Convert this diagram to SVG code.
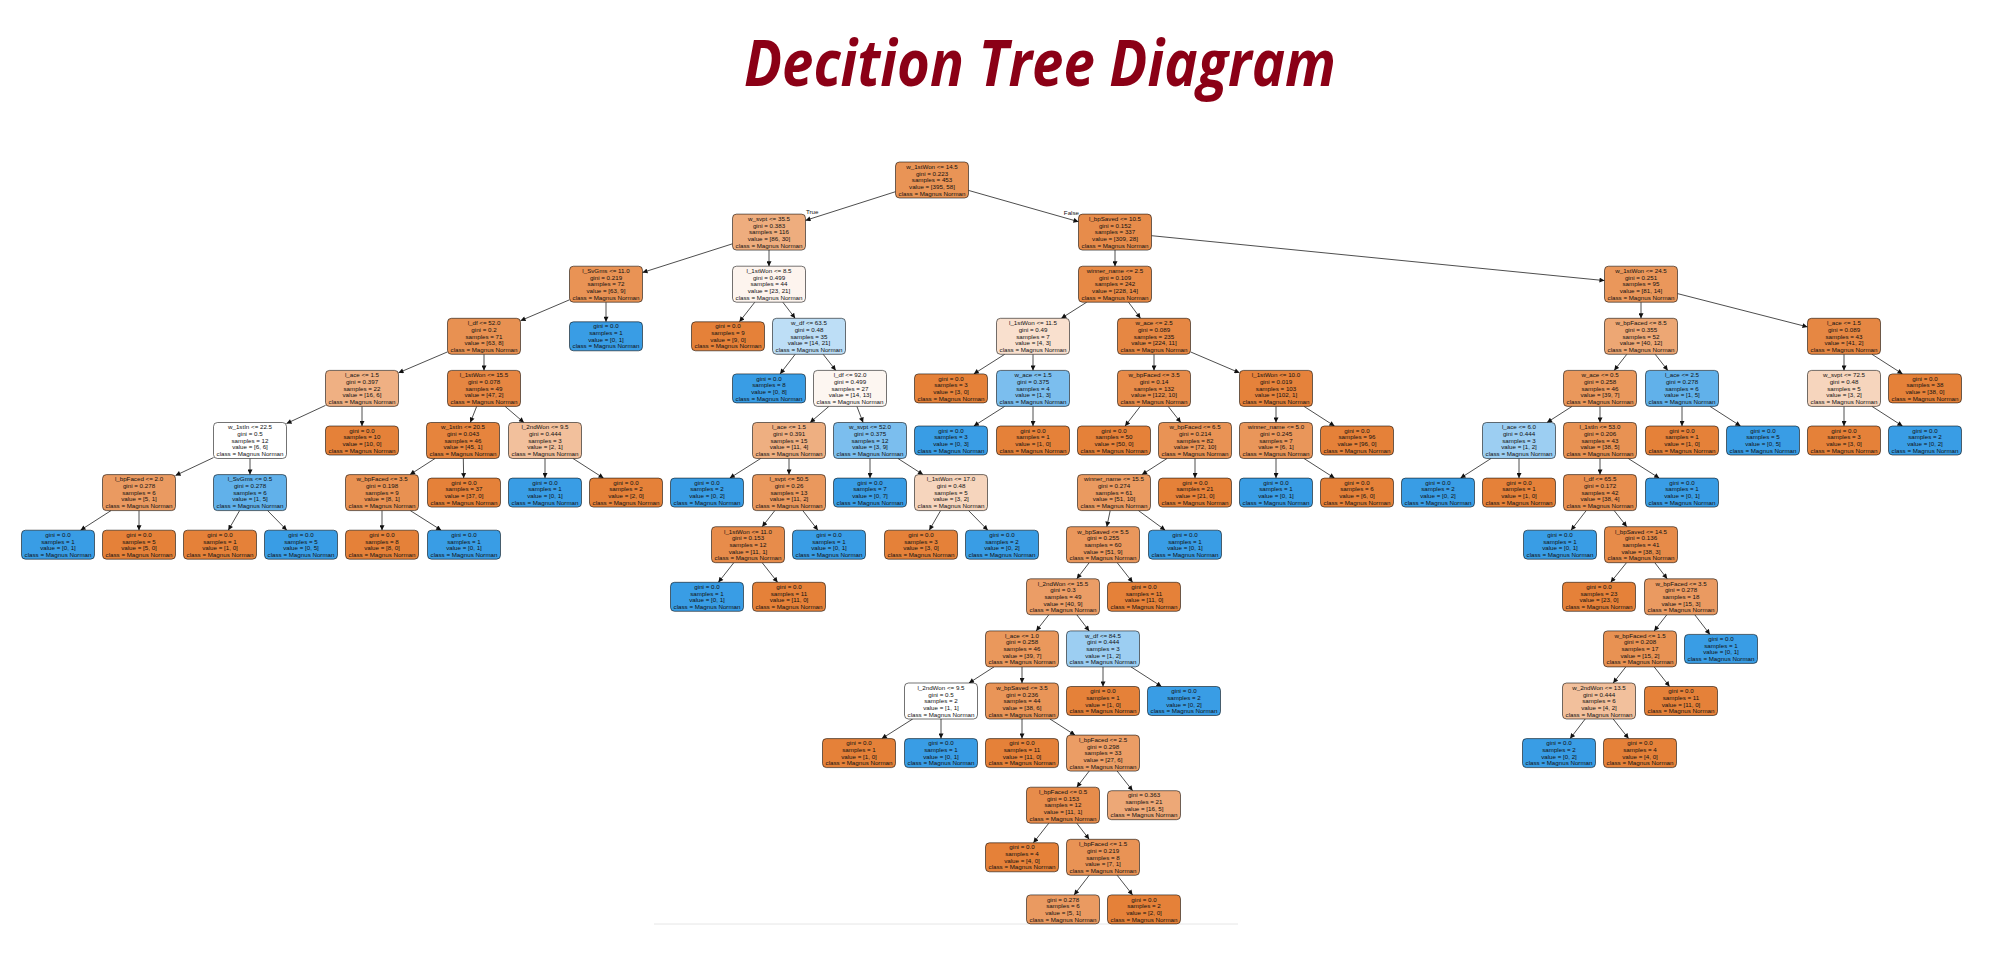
<svg xmlns="http://www.w3.org/2000/svg" width="2002" height="972" viewBox="0 0 2002 972">
<style>
.nd rect{stroke:#000;stroke-opacity:.55;stroke-width:1}
.nd text{font-family:"Liberation Sans",Arial,sans-serif;font-size:6.2px;fill:#111;text-anchor:middle}
.o{fill:#e58139}.b{fill:#399de5}
.e line{stroke:#3a3a3a;stroke-width:.9;marker-end:url(#ah)}
.lbl{font-family:"Liberation Sans",Arial,sans-serif;font-size:6.2px;fill:#111}
</style>
<defs>
<marker id="ah" viewBox="0 0 10 10" refX="10" refY="5" markerWidth="6" markerHeight="5" markerUnits="userSpaceOnUse" orient="auto"><path d="M0,0L10,5L0,10z" fill="#111"/></marker>
</defs>
<rect width="2002" height="972" fill="#fff"/>
<text x="1040" y="86" text-anchor="middle" font-family="'Open Sans',sans-serif" font-weight="700" font-style="italic" font-size="64" fill="#8b0016" textLength="592" lengthAdjust="spacingAndGlyphs">Decition Tree Diagram</text>
<line x1="654" y1="924" x2="1238" y2="924" stroke="#e6e6e6" stroke-width="1"/>

<g id="edges" class="e">
<line x1="895.5" y1="191.7" x2="805.5" y2="220.4"/>
<line x1="968.5" y1="190.4" x2="1078.5" y2="221.7"/>
<line x1="732.5" y1="243.8" x2="642.5" y2="272.5"/>
<line x1="769" y1="250.1" x2="769" y2="266.2"/>
<line x1="1115" y1="250.1" x2="1115" y2="266.2"/>
<line x1="1151.5" y1="235.7" x2="1604.5" y2="280.6"/>
<line x1="569.5" y1="299.8" x2="520.5" y2="320.7"/>
<line x1="606" y1="302.2" x2="606" y2="321.8"/>
<line x1="754.8" y1="302.2" x2="739.4" y2="321.8"/>
<line x1="782.8" y1="302.2" x2="795.2" y2="318.3"/>
<line x1="1086.7" y1="302.2" x2="1061.3" y2="318.3"/>
<line x1="1128.5" y1="302.2" x2="1140.5" y2="318.3"/>
<line x1="1641" y1="302.2" x2="1641" y2="318.3"/>
<line x1="1677.5" y1="293.6" x2="1807.5" y2="326.9"/>
<line x1="447.5" y1="351.9" x2="398.5" y2="372.8"/>
<line x1="484" y1="354.3" x2="484" y2="370.4"/>
<line x1="795.2" y1="354.3" x2="780.1" y2="373.9"/>
<line x1="823.2" y1="354.3" x2="835.8" y2="370.4"/>
<line x1="1004.7" y1="354.3" x2="973.8" y2="373.9"/>
<line x1="1033" y1="354.3" x2="1033" y2="370.4"/>
<line x1="1154" y1="354.3" x2="1154" y2="370.4"/>
<line x1="1190.5" y1="351.9" x2="1239.5" y2="372.8"/>
<line x1="1626.8" y1="354.3" x2="1614.2" y2="370.4"/>
<line x1="1655.2" y1="354.3" x2="1667.8" y2="370.4"/>
<line x1="1844" y1="354.3" x2="1844" y2="370.4"/>
<line x1="1872" y1="354.3" x2="1902.5" y2="373.9"/>
<line x1="325.5" y1="405.4" x2="286.5" y2="423.5"/>
<line x1="362" y1="406.4" x2="362" y2="426"/>
<line x1="476.7" y1="406.4" x2="470.3" y2="422.5"/>
<line x1="505.1" y1="406.4" x2="523.9" y2="422.5"/>
<line x1="828.9" y1="406.4" x2="810.1" y2="422.5"/>
<line x1="856.9" y1="406.4" x2="863.1" y2="422.5"/>
<line x1="1004.7" y1="406.4" x2="973.8" y2="426"/>
<line x1="1033" y1="406.4" x2="1033" y2="426"/>
<line x1="1140.2" y1="406.4" x2="1125.1" y2="426"/>
<line x1="1168.2" y1="406.4" x2="1180.8" y2="422.5"/>
<line x1="1276" y1="406.4" x2="1276" y2="422.5"/>
<line x1="1304" y1="406.4" x2="1334.5" y2="426"/>
<line x1="1572" y1="406.4" x2="1547" y2="422.5"/>
<line x1="1600" y1="406.4" x2="1600" y2="422.5"/>
<line x1="1682" y1="406.4" x2="1682" y2="426"/>
<line x1="1710" y1="406.4" x2="1740.5" y2="426"/>
<line x1="1844" y1="406.4" x2="1844" y2="426"/>
<line x1="1872" y1="406.4" x2="1902.5" y2="426"/>
<line x1="213.5" y1="457.6" x2="175.5" y2="475.5"/>
<line x1="250" y1="458.5" x2="250" y2="474.6"/>
<line x1="435" y1="458.5" x2="410" y2="474.6"/>
<line x1="463.3" y1="458.5" x2="463.7" y2="478.1"/>
<line x1="545" y1="458.5" x2="545" y2="478.1"/>
<line x1="573" y1="458.5" x2="603.5" y2="478.1"/>
<line x1="760.7" y1="458.5" x2="729.8" y2="478.1"/>
<line x1="789" y1="458.5" x2="789" y2="474.6"/>
<line x1="870" y1="458.5" x2="870" y2="478.1"/>
<line x1="898" y1="458.5" x2="923" y2="474.6"/>
<line x1="1167" y1="458.5" x2="1142" y2="474.6"/>
<line x1="1195" y1="458.5" x2="1195" y2="478.1"/>
<line x1="1276" y1="458.5" x2="1276" y2="478.1"/>
<line x1="1304" y1="458.5" x2="1334.5" y2="478.1"/>
<line x1="1491" y1="458.5" x2="1460.5" y2="478.1"/>
<line x1="1519" y1="458.5" x2="1519" y2="478.1"/>
<line x1="1600" y1="458.5" x2="1600" y2="474.6"/>
<line x1="1628.3" y1="458.5" x2="1659.2" y2="478.1"/>
<line x1="111" y1="510.6" x2="80.5" y2="530.2"/>
<line x1="139" y1="510.6" x2="139" y2="530.2"/>
<line x1="239.6" y1="510.6" x2="228.3" y2="530.2"/>
<line x1="267.6" y1="510.6" x2="286.8" y2="530.2"/>
<line x1="382" y1="510.6" x2="382" y2="530.2"/>
<line x1="410.3" y1="510.6" x2="441.2" y2="530.2"/>
<line x1="774.8" y1="510.6" x2="762.2" y2="526.7"/>
<line x1="802.8" y1="510.6" x2="817.9" y2="530.2"/>
<line x1="940.6" y1="510.6" x2="929.3" y2="530.2"/>
<line x1="968.6" y1="510.6" x2="987.8" y2="530.2"/>
<line x1="1110.2" y1="510.6" x2="1106.8" y2="526.7"/>
<line x1="1138.5" y1="510.6" x2="1165.2" y2="530.2"/>
<line x1="1586.2" y1="510.6" x2="1571.1" y2="530.2"/>
<line x1="1614.2" y1="510.6" x2="1626.8" y2="526.7"/>
<line x1="733.8" y1="562.7" x2="718.4" y2="582.3"/>
<line x1="762.2" y1="562.7" x2="777.6" y2="582.3"/>
<line x1="1089.2" y1="562.7" x2="1076.8" y2="578.8"/>
<line x1="1117.2" y1="562.7" x2="1132.6" y2="582.3"/>
<line x1="1626.5" y1="562.7" x2="1610.7" y2="582.3"/>
<line x1="1654.8" y1="562.7" x2="1667.2" y2="578.8"/>
<line x1="1048.8" y1="614.8" x2="1036.2" y2="630.9"/>
<line x1="1076.8" y1="614.8" x2="1089.2" y2="630.9"/>
<line x1="1666.8" y1="614.8" x2="1654.2" y2="630.9"/>
<line x1="1694.8" y1="614.8" x2="1709.9" y2="634.4"/>
<line x1="994" y1="666.9" x2="969" y2="683"/>
<line x1="1022" y1="666.9" x2="1022" y2="683"/>
<line x1="1103" y1="666.9" x2="1103" y2="686.5"/>
<line x1="1131" y1="666.9" x2="1161.5" y2="686.5"/>
<line x1="1625.8" y1="666.9" x2="1613.2" y2="683"/>
<line x1="1654.2" y1="666.9" x2="1669.6" y2="686.5"/>
<line x1="912.7" y1="719" x2="881.8" y2="738.6"/>
<line x1="941" y1="719" x2="941" y2="738.6"/>
<line x1="1022" y1="719" x2="1022" y2="738.6"/>
<line x1="1050" y1="719" x2="1075" y2="735.1"/>
<line x1="1585.2" y1="719" x2="1570.1" y2="738.6"/>
<line x1="1613.2" y1="719" x2="1628.6" y2="738.6"/>
<line x1="1089.2" y1="771.1" x2="1076.8" y2="787.2"/>
<line x1="1117.2" y1="771.1" x2="1132.6" y2="790.7"/>
<line x1="1048.8" y1="823.2" x2="1033.4" y2="842.8"/>
<line x1="1076.8" y1="823.2" x2="1089.2" y2="839.3"/>
<line x1="1089.2" y1="875.3" x2="1074.1" y2="894.9"/>
<line x1="1117.2" y1="875.3" x2="1132.6" y2="894.9"/>
</g>
<text class="lbl" x="806" y="214">True</text>
<text class="lbl" x="1079" y="215" text-anchor="end">False</text>

<g id="nodes">
<g id="n0" class="nd" transform="translate(932,180)"><rect x="-36.5" y="-18" width="73" height="36" rx="4" fill="#e99456"/><text y="-11.2"><tspan x="0">w_1stWon &lt;= 14.5</tspan><tspan x="0" dy="6.7">gini = 0.223</tspan><tspan x="0" dy="6.7">samples = 453</tspan><tspan x="0" dy="6.7">value = [395, 58]</tspan><tspan x="0" dy="6.7">class = Magnus Norman</tspan></text></g>
<g id="n1" class="nd" transform="translate(769,232.1)"><rect x="-36.5" y="-18" width="73" height="36" rx="4" fill="#eead7e"/><text y="-11.2"><tspan x="0">w_svpt &lt;= 35.5</tspan><tspan x="0" dy="6.7">gini = 0.383</tspan><tspan x="0" dy="6.7">samples = 116</tspan><tspan x="0" dy="6.7">value = [86, 30]</tspan><tspan x="0" dy="6.7">class = Magnus Norman</tspan></text></g>
<g id="n20" class="nd" transform="translate(1115,232.1)"><rect x="-36.5" y="-18" width="73" height="36" rx="4" fill="#e78c4b"/><text y="-11.2"><tspan x="0">l_bpSaved &lt;= 10.5</tspan><tspan x="0" dy="6.7">gini = 0.152</tspan><tspan x="0" dy="6.7">samples = 337</tspan><tspan x="0" dy="6.7">value = [309, 28]</tspan><tspan x="0" dy="6.7">class = Magnus Norman</tspan></text></g>
<g id="n2" class="nd" transform="translate(606,284.2)"><rect x="-36.5" y="-18" width="73" height="36" rx="4" fill="#e99355"/><text y="-11.2"><tspan x="0">l_SvGms &lt;= 11.0</tspan><tspan x="0" dy="6.7">gini = 0.219</tspan><tspan x="0" dy="6.7">samples = 72</tspan><tspan x="0" dy="6.7">value = [63, 9]</tspan><tspan x="0" dy="6.7">class = Magnus Norman</tspan></text></g>
<g id="n12" class="nd" transform="translate(769,284.2)"><rect x="-36.5" y="-18" width="73" height="36" rx="4" fill="#fdf4ee"/><text y="-11.2"><tspan x="0">l_1stWon &lt;= 8.5</tspan><tspan x="0" dy="6.7">gini = 0.499</tspan><tspan x="0" dy="6.7">samples = 44</tspan><tspan x="0" dy="6.7">value = [23, 21]</tspan><tspan x="0" dy="6.7">class = Magnus Norman</tspan></text></g>
<g id="n21" class="nd" transform="translate(1115,284.2)"><rect x="-36.5" y="-18" width="73" height="36" rx="4" fill="#e78945"/><text y="-11.2"><tspan x="0">winner_name &lt;= 2.5</tspan><tspan x="0" dy="6.7">gini = 0.109</tspan><tspan x="0" dy="6.7">samples = 242</tspan><tspan x="0" dy="6.7">value = [228, 14]</tspan><tspan x="0" dy="6.7">class = Magnus Norman</tspan></text></g>
<g id="n39" class="nd" transform="translate(1641,284.2)"><rect x="-36.5" y="-18" width="73" height="36" rx="4" fill="#ea975b"/><text y="-11.2"><tspan x="0">w_1stWon &lt;= 24.5</tspan><tspan x="0" dy="6.7">gini = 0.251</tspan><tspan x="0" dy="6.7">samples = 95</tspan><tspan x="0" dy="6.7">value = [81, 14]</tspan><tspan x="0" dy="6.7">class = Magnus Norman</tspan></text></g>
<g id="n3" class="nd" transform="translate(484,336.3)"><rect x="-36.5" y="-18" width="73" height="36" rx="4" fill="#e89152"/><text y="-11.2"><tspan x="0">l_df &lt;= 52.0</tspan><tspan x="0" dy="6.7">gini = 0.2</tspan><tspan x="0" dy="6.7">samples = 71</tspan><tspan x="0" dy="6.7">value = [63, 8]</tspan><tspan x="0" dy="6.7">class = Magnus Norman</tspan></text></g>
<g id="n13" class="nd" transform="translate(809,336.3)"><rect x="-36.5" y="-18" width="73" height="36" rx="4" fill="#bddef6"/><text y="-11.2"><tspan x="0">w_df &lt;= 63.5</tspan><tspan x="0" dy="6.7">gini = 0.48</tspan><tspan x="0" dy="6.7">samples = 35</tspan><tspan x="0" dy="6.7">value = [14, 21]</tspan><tspan x="0" dy="6.7">class = Magnus Norman</tspan></text></g>
<g id="n22" class="nd" transform="translate(1033,336.3)"><rect x="-36.5" y="-18" width="73" height="36" rx="4" fill="#f9e0ce"/><text y="-11.2"><tspan x="0">l_1stWon &lt;= 11.5</tspan><tspan x="0" dy="6.7">gini = 0.49</tspan><tspan x="0" dy="6.7">samples = 7</tspan><tspan x="0" dy="6.7">value = [4, 3]</tspan><tspan x="0" dy="6.7">class = Magnus Norman</tspan></text></g>
<g id="n24" class="nd" transform="translate(1154,336.3)"><rect x="-36.5" y="-18" width="73" height="36" rx="4" fill="#e68743"/><text y="-11.2"><tspan x="0">w_ace &lt;= 2.5</tspan><tspan x="0" dy="6.7">gini = 0.089</tspan><tspan x="0" dy="6.7">samples = 235</tspan><tspan x="0" dy="6.7">value = [224, 11]</tspan><tspan x="0" dy="6.7">class = Magnus Norman</tspan></text></g>
<g id="n40" class="nd" transform="translate(1641,336.3)"><rect x="-36.5" y="-18" width="73" height="36" rx="4" fill="#eda774"/><text y="-11.2"><tspan x="0">w_bpFaced &lt;= 8.5</tspan><tspan x="0" dy="6.7">gini = 0.355</tspan><tspan x="0" dy="6.7">samples = 52</tspan><tspan x="0" dy="6.7">value = [40, 12]</tspan><tspan x="0" dy="6.7">class = Magnus Norman</tspan></text></g>
<g id="n50" class="nd" transform="translate(1844,336.3)"><rect x="-36.5" y="-18" width="73" height="36" rx="4" fill="#e68743"/><text y="-11.2"><tspan x="0">l_ace &lt;= 1.5</tspan><tspan x="0" dy="6.7">gini = 0.089</tspan><tspan x="0" dy="6.7">samples = 43</tspan><tspan x="0" dy="6.7">value = [41, 2]</tspan><tspan x="0" dy="6.7">class = Magnus Norman</tspan></text></g>
<g id="n4" class="nd" transform="translate(362,388.4)"><rect x="-36.5" y="-18" width="73" height="36" rx="4" fill="#efb083"/><text y="-11.2"><tspan x="0">l_ace &lt;= 1.5</tspan><tspan x="0" dy="6.7">gini = 0.397</tspan><tspan x="0" dy="6.7">samples = 22</tspan><tspan x="0" dy="6.7">value = [16, 6]</tspan><tspan x="0" dy="6.7">class = Magnus Norman</tspan></text></g>
<g id="n8" class="nd" transform="translate(484,388.4)"><rect x="-36.5" y="-18" width="73" height="36" rx="4" fill="#e68642"/><text y="-11.2"><tspan x="0">l_1stWon &lt;= 15.5</tspan><tspan x="0" dy="6.7">gini = 0.078</tspan><tspan x="0" dy="6.7">samples = 49</tspan><tspan x="0" dy="6.7">value = [47, 2]</tspan><tspan x="0" dy="6.7">class = Magnus Norman</tspan></text></g>
<g id="n14" class="nd" transform="translate(850,388.4)"><rect x="-36.5" y="-18" width="73" height="36" rx="4" fill="#fdf6f1"/><text y="-11.2"><tspan x="0">l_df &lt;= 92.0</tspan><tspan x="0" dy="6.7">gini = 0.499</tspan><tspan x="0" dy="6.7">samples = 27</tspan><tspan x="0" dy="6.7">value = [14, 13]</tspan><tspan x="0" dy="6.7">class = Magnus Norman</tspan></text></g>
<g id="n23" class="nd" transform="translate(1033,388.4)"><rect x="-36.5" y="-18" width="73" height="36" rx="4" fill="#7bbeee"/><text y="-11.2"><tspan x="0">w_ace &lt;= 1.5</tspan><tspan x="0" dy="6.7">gini = 0.375</tspan><tspan x="0" dy="6.7">samples = 4</tspan><tspan x="0" dy="6.7">value = [1, 3]</tspan><tspan x="0" dy="6.7">class = Magnus Norman</tspan></text></g>
<g id="n25" class="nd" transform="translate(1154,388.4)"><rect x="-36.5" y="-18" width="73" height="36" rx="4" fill="#e78b49"/><text y="-11.2"><tspan x="0">w_bpFaced &lt;= 3.5</tspan><tspan x="0" dy="6.7">gini = 0.14</tspan><tspan x="0" dy="6.7">samples = 132</tspan><tspan x="0" dy="6.7">value = [122, 10]</tspan><tspan x="0" dy="6.7">class = Magnus Norman</tspan></text></g>
<g id="n37" class="nd" transform="translate(1276,388.4)"><rect x="-36.5" y="-18" width="73" height="36" rx="4" fill="#e5823b"/><text y="-11.2"><tspan x="0">l_1stWon &lt;= 10.0</tspan><tspan x="0" dy="6.7">gini = 0.019</tspan><tspan x="0" dy="6.7">samples = 103</tspan><tspan x="0" dy="6.7">value = [102, 1]</tspan><tspan x="0" dy="6.7">class = Magnus Norman</tspan></text></g>
<g id="n41" class="nd" transform="translate(1600,388.4)"><rect x="-36.5" y="-18" width="73" height="36" rx="4" fill="#ea985c"/><text y="-11.2"><tspan x="0">w_ace &lt;= 0.5</tspan><tspan x="0" dy="6.7">gini = 0.258</tspan><tspan x="0" dy="6.7">samples = 46</tspan><tspan x="0" dy="6.7">value = [39, 7]</tspan><tspan x="0" dy="6.7">class = Magnus Norman</tspan></text></g>
<g id="n49" class="nd" transform="translate(1682,388.4)"><rect x="-36.5" y="-18" width="73" height="36" rx="4" fill="#61b1ea"/><text y="-11.2"><tspan x="0">l_ace &lt;= 2.5</tspan><tspan x="0" dy="6.7">gini = 0.278</tspan><tspan x="0" dy="6.7">samples = 6</tspan><tspan x="0" dy="6.7">value = [1, 5]</tspan><tspan x="0" dy="6.7">class = Magnus Norman</tspan></text></g>
<g id="n51" class="nd" transform="translate(1844,388.4)"><rect x="-36.5" y="-18" width="73" height="36" rx="4" fill="#f6d5bd"/><text y="-11.2"><tspan x="0">w_svpt &lt;= 72.5</tspan><tspan x="0" dy="6.7">gini = 0.48</tspan><tspan x="0" dy="6.7">samples = 5</tspan><tspan x="0" dy="6.7">value = [3, 2]</tspan><tspan x="0" dy="6.7">class = Magnus Norman</tspan></text></g>
<g id="n5" class="nd" transform="translate(250,440.5)"><rect x="-36.5" y="-18" width="73" height="36" rx="4" fill="#ffffff"/><text y="-11.2"><tspan x="0">w_1stIn &lt;= 22.5</tspan><tspan x="0" dy="6.7">gini = 0.5</tspan><tspan x="0" dy="6.7">samples = 12</tspan><tspan x="0" dy="6.7">value = [6, 6]</tspan><tspan x="0" dy="6.7">class = Magnus Norman</tspan></text></g>
<g id="n9" class="nd" transform="translate(463,440.5)"><rect x="-36.5" y="-18" width="73" height="36" rx="4" fill="#e6843d"/><text y="-11.2"><tspan x="0">w_1stIn &lt;= 20.5</tspan><tspan x="0" dy="6.7">gini = 0.043</tspan><tspan x="0" dy="6.7">samples = 46</tspan><tspan x="0" dy="6.7">value = [45, 1]</tspan><tspan x="0" dy="6.7">class = Magnus Norman</tspan></text></g>
<g id="n11" class="nd" transform="translate(545,440.5)"><rect x="-36.5" y="-18" width="73" height="36" rx="4" fill="#f2c09c"/><text y="-11.2"><tspan x="0">l_2ndWon &lt;= 9.5</tspan><tspan x="0" dy="6.7">gini = 0.444</tspan><tspan x="0" dy="6.7">samples = 3</tspan><tspan x="0" dy="6.7">value = [2, 1]</tspan><tspan x="0" dy="6.7">class = Magnus Norman</tspan></text></g>
<g id="n15" class="nd" transform="translate(789,440.5)"><rect x="-36.5" y="-18" width="73" height="36" rx="4" fill="#eeaf81"/><text y="-11.2"><tspan x="0">l_ace &lt;= 1.5</tspan><tspan x="0" dy="6.7">gini = 0.391</tspan><tspan x="0" dy="6.7">samples = 15</tspan><tspan x="0" dy="6.7">value = [11, 4]</tspan><tspan x="0" dy="6.7">class = Magnus Norman</tspan></text></g>
<g id="n18" class="nd" transform="translate(870,440.5)"><rect x="-36.5" y="-18" width="73" height="36" rx="4" fill="#7bbeee"/><text y="-11.2"><tspan x="0">w_svpt &lt;= 52.0</tspan><tspan x="0" dy="6.7">gini = 0.375</tspan><tspan x="0" dy="6.7">samples = 12</tspan><tspan x="0" dy="6.7">value = [3, 9]</tspan><tspan x="0" dy="6.7">class = Magnus Norman</tspan></text></g>
<g id="n26" class="nd" transform="translate(1195,440.5)"><rect x="-36.5" y="-18" width="73" height="36" rx="4" fill="#e99355"/><text y="-11.2"><tspan x="0">w_bpFaced &lt;= 6.5</tspan><tspan x="0" dy="6.7">gini = 0.214</tspan><tspan x="0" dy="6.7">samples = 82</tspan><tspan x="0" dy="6.7">value = [72, 10]</tspan><tspan x="0" dy="6.7">class = Magnus Norman</tspan></text></g>
<g id="n38" class="nd" transform="translate(1276,440.5)"><rect x="-36.5" y="-18" width="73" height="36" rx="4" fill="#e9965a"/><text y="-11.2"><tspan x="0">winner_name &lt;= 5.0</tspan><tspan x="0" dy="6.7">gini = 0.245</tspan><tspan x="0" dy="6.7">samples = 7</tspan><tspan x="0" dy="6.7">value = [6, 1]</tspan><tspan x="0" dy="6.7">class = Magnus Norman</tspan></text></g>
<g id="n42" class="nd" transform="translate(1519,440.5)"><rect x="-36.5" y="-18" width="73" height="36" rx="4" fill="#9ccef2"/><text y="-11.2"><tspan x="0">l_ace &lt;= 6.0</tspan><tspan x="0" dy="6.7">gini = 0.444</tspan><tspan x="0" dy="6.7">samples = 3</tspan><tspan x="0" dy="6.7">value = [1, 2]</tspan><tspan x="0" dy="6.7">class = Magnus Norman</tspan></text></g>
<g id="n43" class="nd" transform="translate(1600,440.5)"><rect x="-36.5" y="-18" width="73" height="36" rx="4" fill="#e89253"/><text y="-11.2"><tspan x="0">l_1stIn &lt;= 53.0</tspan><tspan x="0" dy="6.7">gini = 0.206</tspan><tspan x="0" dy="6.7">samples = 43</tspan><tspan x="0" dy="6.7">value = [38, 5]</tspan><tspan x="0" dy="6.7">class = Magnus Norman</tspan></text></g>
<g id="n6" class="nd" transform="translate(139,492.6)"><rect x="-36.5" y="-18" width="73" height="36" rx="4" fill="#ea9a61"/><text y="-11.2"><tspan x="0">l_bpFaced &lt;= 2.0</tspan><tspan x="0" dy="6.7">gini = 0.278</tspan><tspan x="0" dy="6.7">samples = 6</tspan><tspan x="0" dy="6.7">value = [5, 1]</tspan><tspan x="0" dy="6.7">class = Magnus Norman</tspan></text></g>
<g id="n7" class="nd" transform="translate(250,492.6)"><rect x="-36.5" y="-18" width="73" height="36" rx="4" fill="#61b1ea"/><text y="-11.2"><tspan x="0">l_SvGms &lt;= 0.5</tspan><tspan x="0" dy="6.7">gini = 0.278</tspan><tspan x="0" dy="6.7">samples = 6</tspan><tspan x="0" dy="6.7">value = [1, 5]</tspan><tspan x="0" dy="6.7">class = Magnus Norman</tspan></text></g>
<g id="n10" class="nd" transform="translate(382,492.6)"><rect x="-36.5" y="-18" width="73" height="36" rx="4" fill="#e89152"/><text y="-11.2"><tspan x="0">w_bpFaced &lt;= 3.5</tspan><tspan x="0" dy="6.7">gini = 0.198</tspan><tspan x="0" dy="6.7">samples = 9</tspan><tspan x="0" dy="6.7">value = [8, 1]</tspan><tspan x="0" dy="6.7">class = Magnus Norman</tspan></text></g>
<g id="n16" class="nd" transform="translate(789,492.6)"><rect x="-36.5" y="-18" width="73" height="36" rx="4" fill="#ea985d"/><text y="-11.2"><tspan x="0">l_svpt &lt;= 50.5</tspan><tspan x="0" dy="6.7">gini = 0.26</tspan><tspan x="0" dy="6.7">samples = 13</tspan><tspan x="0" dy="6.7">value = [11, 2]</tspan><tspan x="0" dy="6.7">class = Magnus Norman</tspan></text></g>
<g id="n19" class="nd" transform="translate(951,492.6)"><rect x="-36.5" y="-18" width="73" height="36" rx="4" fill="#f6d5bd"/><text y="-11.2"><tspan x="0">l_1stWon &lt;= 17.0</tspan><tspan x="0" dy="6.7">gini = 0.48</tspan><tspan x="0" dy="6.7">samples = 5</tspan><tspan x="0" dy="6.7">value = [3, 2]</tspan><tspan x="0" dy="6.7">class = Magnus Norman</tspan></text></g>
<g id="n27" class="nd" transform="translate(1114,492.6)"><rect x="-36.5" y="-18" width="73" height="36" rx="4" fill="#ea9a60"/><text y="-11.2"><tspan x="0">winner_name &lt;= 15.5</tspan><tspan x="0" dy="6.7">gini = 0.274</tspan><tspan x="0" dy="6.7">samples = 61</tspan><tspan x="0" dy="6.7">value = [51, 10]</tspan><tspan x="0" dy="6.7">class = Magnus Norman</tspan></text></g>
<g id="n44" class="nd" transform="translate(1600,492.6)"><rect x="-36.5" y="-18" width="73" height="36" rx="4" fill="#e88e4e"/><text y="-11.2"><tspan x="0">l_df &lt;= 65.5</tspan><tspan x="0" dy="6.7">gini = 0.172</tspan><tspan x="0" dy="6.7">samples = 42</tspan><tspan x="0" dy="6.7">value = [38, 4]</tspan><tspan x="0" dy="6.7">class = Magnus Norman</tspan></text></g>
<g id="n17" class="nd" transform="translate(748,544.7)"><rect x="-36.5" y="-18" width="73" height="36" rx="4" fill="#e78c4b"/><text y="-11.2"><tspan x="0">l_1stWon &lt;= 11.0</tspan><tspan x="0" dy="6.7">gini = 0.153</tspan><tspan x="0" dy="6.7">samples = 12</tspan><tspan x="0" dy="6.7">value = [11, 1]</tspan><tspan x="0" dy="6.7">class = Magnus Norman</tspan></text></g>
<g id="n28" class="nd" transform="translate(1103,544.7)"><rect x="-36.5" y="-18" width="73" height="36" rx="4" fill="#ea975c"/><text y="-11.2"><tspan x="0">w_bpSaved &lt;= 5.5</tspan><tspan x="0" dy="6.7">gini = 0.255</tspan><tspan x="0" dy="6.7">samples = 60</tspan><tspan x="0" dy="6.7">value = [51, 9]</tspan><tspan x="0" dy="6.7">class = Magnus Norman</tspan></text></g>
<g id="n45" class="nd" transform="translate(1641,544.7)"><rect x="-36.5" y="-18" width="73" height="36" rx="4" fill="#e78b49"/><text y="-11.2"><tspan x="0">l_bpSaved &lt;= 14.5</tspan><tspan x="0" dy="6.7">gini = 0.136</tspan><tspan x="0" dy="6.7">samples = 41</tspan><tspan x="0" dy="6.7">value = [38, 3]</tspan><tspan x="0" dy="6.7">class = Magnus Norman</tspan></text></g>
<g id="n29" class="nd" transform="translate(1063,596.8)"><rect x="-36.5" y="-18" width="73" height="36" rx="4" fill="#eb9d66"/><text y="-11.2"><tspan x="0">l_2ndWon &lt;= 15.5</tspan><tspan x="0" dy="6.7">gini = 0.3</tspan><tspan x="0" dy="6.7">samples = 49</tspan><tspan x="0" dy="6.7">value = [40, 9]</tspan><tspan x="0" dy="6.7">class = Magnus Norman</tspan></text></g>
<g id="n46" class="nd" transform="translate(1681,596.8)"><rect x="-36.5" y="-18" width="73" height="36" rx="4" fill="#ea9a61"/><text y="-11.2"><tspan x="0">w_bpFaced &lt;= 3.5</tspan><tspan x="0" dy="6.7">gini = 0.278</tspan><tspan x="0" dy="6.7">samples = 18</tspan><tspan x="0" dy="6.7">value = [15, 3]</tspan><tspan x="0" dy="6.7">class = Magnus Norman</tspan></text></g>
<g id="n30" class="nd" transform="translate(1022,648.9)"><rect x="-36.5" y="-18" width="73" height="36" rx="4" fill="#ea985c"/><text y="-11.2"><tspan x="0">l_ace &lt;= 1.0</tspan><tspan x="0" dy="6.7">gini = 0.258</tspan><tspan x="0" dy="6.7">samples = 46</tspan><tspan x="0" dy="6.7">value = [39, 7]</tspan><tspan x="0" dy="6.7">class = Magnus Norman</tspan></text></g>
<g id="n36" class="nd" transform="translate(1103,648.9)"><rect x="-36.5" y="-18" width="73" height="36" rx="4" fill="#9ccef2"/><text y="-11.2"><tspan x="0">w_df &lt;= 84.5</tspan><tspan x="0" dy="6.7">gini = 0.444</tspan><tspan x="0" dy="6.7">samples = 3</tspan><tspan x="0" dy="6.7">value = [1, 2]</tspan><tspan x="0" dy="6.7">class = Magnus Norman</tspan></text></g>
<g id="n47" class="nd" transform="translate(1640,648.9)"><rect x="-36.5" y="-18" width="73" height="36" rx="4" fill="#e89253"/><text y="-11.2"><tspan x="0">w_bpFaced &lt;= 1.5</tspan><tspan x="0" dy="6.7">gini = 0.208</tspan><tspan x="0" dy="6.7">samples = 17</tspan><tspan x="0" dy="6.7">value = [15, 2]</tspan><tspan x="0" dy="6.7">class = Magnus Norman</tspan></text></g>
<g id="n31" class="nd" transform="translate(941,701)"><rect x="-36.5" y="-18" width="73" height="36" rx="4" fill="#ffffff"/><text y="-11.2"><tspan x="0">l_2ndWon &lt;= 9.5</tspan><tspan x="0" dy="6.7">gini = 0.5</tspan><tspan x="0" dy="6.7">samples = 2</tspan><tspan x="0" dy="6.7">value = [1, 1]</tspan><tspan x="0" dy="6.7">class = Magnus Norman</tspan></text></g>
<g id="n32" class="nd" transform="translate(1022,701)"><rect x="-36.5" y="-18" width="73" height="36" rx="4" fill="#e99558"/><text y="-11.2"><tspan x="0">w_bpSaved &lt;= 3.5</tspan><tspan x="0" dy="6.7">gini = 0.236</tspan><tspan x="0" dy="6.7">samples = 44</tspan><tspan x="0" dy="6.7">value = [38, 6]</tspan><tspan x="0" dy="6.7">class = Magnus Norman</tspan></text></g>
<g id="n48" class="nd" transform="translate(1599,701)"><rect x="-36.5" y="-18" width="73" height="36" rx="4" fill="#f2c09c"/><text y="-11.2"><tspan x="0">w_2ndWon &lt;= 13.5</tspan><tspan x="0" dy="6.7">gini = 0.444</tspan><tspan x="0" dy="6.7">samples = 6</tspan><tspan x="0" dy="6.7">value = [4, 2]</tspan><tspan x="0" dy="6.7">class = Magnus Norman</tspan></text></g>
<g id="n33" class="nd" transform="translate(1103,753.1)"><rect x="-36.5" y="-18" width="73" height="36" rx="4" fill="#eb9d65"/><text y="-11.2"><tspan x="0">l_bpFaced &lt;= 2.5</tspan><tspan x="0" dy="6.7">gini = 0.298</tspan><tspan x="0" dy="6.7">samples = 33</tspan><tspan x="0" dy="6.7">value = [27, 6]</tspan><tspan x="0" dy="6.7">class = Magnus Norman</tspan></text></g>
<g id="n34" class="nd" transform="translate(1063,805.2)"><rect x="-36.5" y="-18" width="73" height="36" rx="4" fill="#e78c4b"/><text y="-11.2"><tspan x="0">l_bpFaced &lt;= 0.5</tspan><tspan x="0" dy="6.7">gini = 0.153</tspan><tspan x="0" dy="6.7">samples = 12</tspan><tspan x="0" dy="6.7">value = [11, 1]</tspan><tspan x="0" dy="6.7">class = Magnus Norman</tspan></text></g>
<g id="n35" class="nd" transform="translate(1103,857.3)"><rect x="-36.5" y="-18" width="73" height="36" rx="4" fill="#e99355"/><text y="-11.2"><tspan x="0">l_bpFaced &lt;= 1.5</tspan><tspan x="0" dy="6.7">gini = 0.219</tspan><tspan x="0" dy="6.7">samples = 8</tspan><tspan x="0" dy="6.7">value = [7, 1]</tspan><tspan x="0" dy="6.7">class = Magnus Norman</tspan></text></g>

<g id="l1" class="nd" transform="translate(606,336.3)"><rect x="-36.5" y="-14.5" width="73" height="29" rx="4" class="b"/><text y="-7.9"><tspan x="0">gini = 0.0</tspan><tspan x="0" dy="6.7">samples = 1</tspan><tspan x="0" dy="6.7">value = [0, 1]</tspan><tspan x="0" dy="6.7">class = Magnus Norman</tspan></text></g>
<g id="l2" class="nd" transform="translate(728,336.3)"><rect x="-36.5" y="-14.5" width="73" height="29" rx="4" class="o"/><text y="-7.9"><tspan x="0">gini = 0.0</tspan><tspan x="0" dy="6.7">samples = 9</tspan><tspan x="0" dy="6.7">value = [9, 0]</tspan><tspan x="0" dy="6.7">class = Magnus Norman</tspan></text></g>
<g id="l3" class="nd" transform="translate(769,388.4)"><rect x="-36.5" y="-14.5" width="73" height="29" rx="4" class="b"/><text y="-7.9"><tspan x="0">gini = 0.0</tspan><tspan x="0" dy="6.7">samples = 8</tspan><tspan x="0" dy="6.7">value = [0, 8]</tspan><tspan x="0" dy="6.7">class = Magnus Norman</tspan></text></g>
<g id="l4" class="nd" transform="translate(951,388.4)"><rect x="-36.5" y="-14.5" width="73" height="29" rx="4" class="o"/><text y="-7.9"><tspan x="0">gini = 0.0</tspan><tspan x="0" dy="6.7">samples = 3</tspan><tspan x="0" dy="6.7">value = [3, 0]</tspan><tspan x="0" dy="6.7">class = Magnus Norman</tspan></text></g>
<g id="l5" class="nd" transform="translate(1925,388.4)"><rect x="-36.5" y="-14.5" width="73" height="29" rx="4" class="o"/><text y="-7.9"><tspan x="0">gini = 0.0</tspan><tspan x="0" dy="6.7">samples = 38</tspan><tspan x="0" dy="6.7">value = [38, 0]</tspan><tspan x="0" dy="6.7">class = Magnus Norman</tspan></text></g>
<g id="l6" class="nd" transform="translate(362,440.5)"><rect x="-36.5" y="-14.5" width="73" height="29" rx="4" class="o"/><text y="-7.9"><tspan x="0">gini = 0.0</tspan><tspan x="0" dy="6.7">samples = 10</tspan><tspan x="0" dy="6.7">value = [10, 0]</tspan><tspan x="0" dy="6.7">class = Magnus Norman</tspan></text></g>
<g id="l7" class="nd" transform="translate(951,440.5)"><rect x="-36.5" y="-14.5" width="73" height="29" rx="4" class="b"/><text y="-7.9"><tspan x="0">gini = 0.0</tspan><tspan x="0" dy="6.7">samples = 3</tspan><tspan x="0" dy="6.7">value = [0, 3]</tspan><tspan x="0" dy="6.7">class = Magnus Norman</tspan></text></g>
<g id="l8" class="nd" transform="translate(1033,440.5)"><rect x="-36.5" y="-14.5" width="73" height="29" rx="4" class="o"/><text y="-7.9"><tspan x="0">gini = 0.0</tspan><tspan x="0" dy="6.7">samples = 1</tspan><tspan x="0" dy="6.7">value = [1, 0]</tspan><tspan x="0" dy="6.7">class = Magnus Norman</tspan></text></g>
<g id="l9" class="nd" transform="translate(1114,440.5)"><rect x="-36.5" y="-14.5" width="73" height="29" rx="4" class="o"/><text y="-7.9"><tspan x="0">gini = 0.0</tspan><tspan x="0" dy="6.7">samples = 50</tspan><tspan x="0" dy="6.7">value = [50, 0]</tspan><tspan x="0" dy="6.7">class = Magnus Norman</tspan></text></g>
<g id="l10" class="nd" transform="translate(1357,440.5)"><rect x="-36.5" y="-14.5" width="73" height="29" rx="4" class="o"/><text y="-7.9"><tspan x="0">gini = 0.0</tspan><tspan x="0" dy="6.7">samples = 96</tspan><tspan x="0" dy="6.7">value = [96, 0]</tspan><tspan x="0" dy="6.7">class = Magnus Norman</tspan></text></g>
<g id="l11" class="nd" transform="translate(1682,440.5)"><rect x="-36.5" y="-14.5" width="73" height="29" rx="4" class="o"/><text y="-7.9"><tspan x="0">gini = 0.0</tspan><tspan x="0" dy="6.7">samples = 1</tspan><tspan x="0" dy="6.7">value = [1, 0]</tspan><tspan x="0" dy="6.7">class = Magnus Norman</tspan></text></g>
<g id="l12" class="nd" transform="translate(1763,440.5)"><rect x="-36.5" y="-14.5" width="73" height="29" rx="4" class="b"/><text y="-7.9"><tspan x="0">gini = 0.0</tspan><tspan x="0" dy="6.7">samples = 5</tspan><tspan x="0" dy="6.7">value = [0, 5]</tspan><tspan x="0" dy="6.7">class = Magnus Norman</tspan></text></g>
<g id="l13" class="nd" transform="translate(1844,440.5)"><rect x="-36.5" y="-14.5" width="73" height="29" rx="4" class="o"/><text y="-7.9"><tspan x="0">gini = 0.0</tspan><tspan x="0" dy="6.7">samples = 3</tspan><tspan x="0" dy="6.7">value = [3, 0]</tspan><tspan x="0" dy="6.7">class = Magnus Norman</tspan></text></g>
<g id="l14" class="nd" transform="translate(1925,440.5)"><rect x="-36.5" y="-14.5" width="73" height="29" rx="4" class="b"/><text y="-7.9"><tspan x="0">gini = 0.0</tspan><tspan x="0" dy="6.7">samples = 2</tspan><tspan x="0" dy="6.7">value = [0, 2]</tspan><tspan x="0" dy="6.7">class = Magnus Norman</tspan></text></g>
<g id="l15" class="nd" transform="translate(464,492.6)"><rect x="-36.5" y="-14.5" width="73" height="29" rx="4" class="o"/><text y="-7.9"><tspan x="0">gini = 0.0</tspan><tspan x="0" dy="6.7">samples = 37</tspan><tspan x="0" dy="6.7">value = [37, 0]</tspan><tspan x="0" dy="6.7">class = Magnus Norman</tspan></text></g>
<g id="l16" class="nd" transform="translate(545,492.6)"><rect x="-36.5" y="-14.5" width="73" height="29" rx="4" class="b"/><text y="-7.9"><tspan x="0">gini = 0.0</tspan><tspan x="0" dy="6.7">samples = 1</tspan><tspan x="0" dy="6.7">value = [0, 1]</tspan><tspan x="0" dy="6.7">class = Magnus Norman</tspan></text></g>
<g id="l17" class="nd" transform="translate(626,492.6)"><rect x="-36.5" y="-14.5" width="73" height="29" rx="4" class="o"/><text y="-7.9"><tspan x="0">gini = 0.0</tspan><tspan x="0" dy="6.7">samples = 2</tspan><tspan x="0" dy="6.7">value = [2, 0]</tspan><tspan x="0" dy="6.7">class = Magnus Norman</tspan></text></g>
<g id="l18" class="nd" transform="translate(707,492.6)"><rect x="-36.5" y="-14.5" width="73" height="29" rx="4" class="b"/><text y="-7.9"><tspan x="0">gini = 0.0</tspan><tspan x="0" dy="6.7">samples = 2</tspan><tspan x="0" dy="6.7">value = [0, 2]</tspan><tspan x="0" dy="6.7">class = Magnus Norman</tspan></text></g>
<g id="l19" class="nd" transform="translate(870,492.6)"><rect x="-36.5" y="-14.5" width="73" height="29" rx="4" class="b"/><text y="-7.9"><tspan x="0">gini = 0.0</tspan><tspan x="0" dy="6.7">samples = 7</tspan><tspan x="0" dy="6.7">value = [0, 7]</tspan><tspan x="0" dy="6.7">class = Magnus Norman</tspan></text></g>
<g id="l20" class="nd" transform="translate(1195,492.6)"><rect x="-36.5" y="-14.5" width="73" height="29" rx="4" class="o"/><text y="-7.9"><tspan x="0">gini = 0.0</tspan><tspan x="0" dy="6.7">samples = 21</tspan><tspan x="0" dy="6.7">value = [21, 0]</tspan><tspan x="0" dy="6.7">class = Magnus Norman</tspan></text></g>
<g id="l21" class="nd" transform="translate(1276,492.6)"><rect x="-36.5" y="-14.5" width="73" height="29" rx="4" class="b"/><text y="-7.9"><tspan x="0">gini = 0.0</tspan><tspan x="0" dy="6.7">samples = 1</tspan><tspan x="0" dy="6.7">value = [0, 1]</tspan><tspan x="0" dy="6.7">class = Magnus Norman</tspan></text></g>
<g id="l22" class="nd" transform="translate(1357,492.6)"><rect x="-36.5" y="-14.5" width="73" height="29" rx="4" class="o"/><text y="-7.9"><tspan x="0">gini = 0.0</tspan><tspan x="0" dy="6.7">samples = 6</tspan><tspan x="0" dy="6.7">value = [6, 0]</tspan><tspan x="0" dy="6.7">class = Magnus Norman</tspan></text></g>
<g id="l23" class="nd" transform="translate(1438,492.6)"><rect x="-36.5" y="-14.5" width="73" height="29" rx="4" class="b"/><text y="-7.9"><tspan x="0">gini = 0.0</tspan><tspan x="0" dy="6.7">samples = 2</tspan><tspan x="0" dy="6.7">value = [0, 2]</tspan><tspan x="0" dy="6.7">class = Magnus Norman</tspan></text></g>
<g id="l24" class="nd" transform="translate(1519,492.6)"><rect x="-36.5" y="-14.5" width="73" height="29" rx="4" class="o"/><text y="-7.9"><tspan x="0">gini = 0.0</tspan><tspan x="0" dy="6.7">samples = 1</tspan><tspan x="0" dy="6.7">value = [1, 0]</tspan><tspan x="0" dy="6.7">class = Magnus Norman</tspan></text></g>
<g id="l25" class="nd" transform="translate(1682,492.6)"><rect x="-36.5" y="-14.5" width="73" height="29" rx="4" class="b"/><text y="-7.9"><tspan x="0">gini = 0.0</tspan><tspan x="0" dy="6.7">samples = 1</tspan><tspan x="0" dy="6.7">value = [0, 1]</tspan><tspan x="0" dy="6.7">class = Magnus Norman</tspan></text></g>
<g id="l26" class="nd" transform="translate(58,544.7)"><rect x="-36.5" y="-14.5" width="73" height="29" rx="4" class="b"/><text y="-7.9"><tspan x="0">gini = 0.0</tspan><tspan x="0" dy="6.7">samples = 1</tspan><tspan x="0" dy="6.7">value = [0, 1]</tspan><tspan x="0" dy="6.7">class = Magnus Norman</tspan></text></g>
<g id="l27" class="nd" transform="translate(139,544.7)"><rect x="-36.5" y="-14.5" width="73" height="29" rx="4" class="o"/><text y="-7.9"><tspan x="0">gini = 0.0</tspan><tspan x="0" dy="6.7">samples = 5</tspan><tspan x="0" dy="6.7">value = [5, 0]</tspan><tspan x="0" dy="6.7">class = Magnus Norman</tspan></text></g>
<g id="l28" class="nd" transform="translate(220,544.7)"><rect x="-36.5" y="-14.5" width="73" height="29" rx="4" class="o"/><text y="-7.9"><tspan x="0">gini = 0.0</tspan><tspan x="0" dy="6.7">samples = 1</tspan><tspan x="0" dy="6.7">value = [1, 0]</tspan><tspan x="0" dy="6.7">class = Magnus Norman</tspan></text></g>
<g id="l29" class="nd" transform="translate(301,544.7)"><rect x="-36.5" y="-14.5" width="73" height="29" rx="4" class="b"/><text y="-7.9"><tspan x="0">gini = 0.0</tspan><tspan x="0" dy="6.7">samples = 5</tspan><tspan x="0" dy="6.7">value = [0, 5]</tspan><tspan x="0" dy="6.7">class = Magnus Norman</tspan></text></g>
<g id="l30" class="nd" transform="translate(382,544.7)"><rect x="-36.5" y="-14.5" width="73" height="29" rx="4" class="o"/><text y="-7.9"><tspan x="0">gini = 0.0</tspan><tspan x="0" dy="6.7">samples = 8</tspan><tspan x="0" dy="6.7">value = [8, 0]</tspan><tspan x="0" dy="6.7">class = Magnus Norman</tspan></text></g>
<g id="l31" class="nd" transform="translate(464,544.7)"><rect x="-36.5" y="-14.5" width="73" height="29" rx="4" class="b"/><text y="-7.9"><tspan x="0">gini = 0.0</tspan><tspan x="0" dy="6.7">samples = 1</tspan><tspan x="0" dy="6.7">value = [0, 1]</tspan><tspan x="0" dy="6.7">class = Magnus Norman</tspan></text></g>
<g id="l32" class="nd" transform="translate(829,544.7)"><rect x="-36.5" y="-14.5" width="73" height="29" rx="4" class="b"/><text y="-7.9"><tspan x="0">gini = 0.0</tspan><tspan x="0" dy="6.7">samples = 1</tspan><tspan x="0" dy="6.7">value = [0, 1]</tspan><tspan x="0" dy="6.7">class = Magnus Norman</tspan></text></g>
<g id="l33" class="nd" transform="translate(921,544.7)"><rect x="-36.5" y="-14.5" width="73" height="29" rx="4" class="o"/><text y="-7.9"><tspan x="0">gini = 0.0</tspan><tspan x="0" dy="6.7">samples = 3</tspan><tspan x="0" dy="6.7">value = [3, 0]</tspan><tspan x="0" dy="6.7">class = Magnus Norman</tspan></text></g>
<g id="l34" class="nd" transform="translate(1002,544.7)"><rect x="-36.5" y="-14.5" width="73" height="29" rx="4" class="b"/><text y="-7.9"><tspan x="0">gini = 0.0</tspan><tspan x="0" dy="6.7">samples = 2</tspan><tspan x="0" dy="6.7">value = [0, 2]</tspan><tspan x="0" dy="6.7">class = Magnus Norman</tspan></text></g>
<g id="l35" class="nd" transform="translate(1185,544.7)"><rect x="-36.5" y="-14.5" width="73" height="29" rx="4" class="b"/><text y="-7.9"><tspan x="0">gini = 0.0</tspan><tspan x="0" dy="6.7">samples = 1</tspan><tspan x="0" dy="6.7">value = [0, 1]</tspan><tspan x="0" dy="6.7">class = Magnus Norman</tspan></text></g>
<g id="l36" class="nd" transform="translate(1560,544.7)"><rect x="-36.5" y="-14.5" width="73" height="29" rx="4" class="b"/><text y="-7.9"><tspan x="0">gini = 0.0</tspan><tspan x="0" dy="6.7">samples = 1</tspan><tspan x="0" dy="6.7">value = [0, 1]</tspan><tspan x="0" dy="6.7">class = Magnus Norman</tspan></text></g>
<g id="l37" class="nd" transform="translate(707,596.8)"><rect x="-36.5" y="-14.5" width="73" height="29" rx="4" class="b"/><text y="-7.9"><tspan x="0">gini = 0.0</tspan><tspan x="0" dy="6.7">samples = 1</tspan><tspan x="0" dy="6.7">value = [0, 1]</tspan><tspan x="0" dy="6.7">class = Magnus Norman</tspan></text></g>
<g id="l38" class="nd" transform="translate(789,596.8)"><rect x="-36.5" y="-14.5" width="73" height="29" rx="4" class="o"/><text y="-7.9"><tspan x="0">gini = 0.0</tspan><tspan x="0" dy="6.7">samples = 11</tspan><tspan x="0" dy="6.7">value = [11, 0]</tspan><tspan x="0" dy="6.7">class = Magnus Norman</tspan></text></g>
<g id="l39" class="nd" transform="translate(1144,596.8)"><rect x="-36.5" y="-14.5" width="73" height="29" rx="4" class="o"/><text y="-7.9"><tspan x="0">gini = 0.0</tspan><tspan x="0" dy="6.7">samples = 11</tspan><tspan x="0" dy="6.7">value = [11, 0]</tspan><tspan x="0" dy="6.7">class = Magnus Norman</tspan></text></g>
<g id="l40" class="nd" transform="translate(1599,596.8)"><rect x="-36.5" y="-14.5" width="73" height="29" rx="4" class="o"/><text y="-7.9"><tspan x="0">gini = 0.0</tspan><tspan x="0" dy="6.7">samples = 23</tspan><tspan x="0" dy="6.7">value = [23, 0]</tspan><tspan x="0" dy="6.7">class = Magnus Norman</tspan></text></g>
<g id="l41" class="nd" transform="translate(1721,648.9)"><rect x="-36.5" y="-14.5" width="73" height="29" rx="4" class="b"/><text y="-7.9"><tspan x="0">gini = 0.0</tspan><tspan x="0" dy="6.7">samples = 1</tspan><tspan x="0" dy="6.7">value = [0, 1]</tspan><tspan x="0" dy="6.7">class = Magnus Norman</tspan></text></g>
<g id="l42" class="nd" transform="translate(1103,701)"><rect x="-36.5" y="-14.5" width="73" height="29" rx="4" class="o"/><text y="-7.9"><tspan x="0">gini = 0.0</tspan><tspan x="0" dy="6.7">samples = 1</tspan><tspan x="0" dy="6.7">value = [1, 0]</tspan><tspan x="0" dy="6.7">class = Magnus Norman</tspan></text></g>
<g id="l43" class="nd" transform="translate(1184,701)"><rect x="-36.5" y="-14.5" width="73" height="29" rx="4" class="b"/><text y="-7.9"><tspan x="0">gini = 0.0</tspan><tspan x="0" dy="6.7">samples = 2</tspan><tspan x="0" dy="6.7">value = [0, 2]</tspan><tspan x="0" dy="6.7">class = Magnus Norman</tspan></text></g>
<g id="l44" class="nd" transform="translate(1681,701)"><rect x="-36.5" y="-14.5" width="73" height="29" rx="4" class="o"/><text y="-7.9"><tspan x="0">gini = 0.0</tspan><tspan x="0" dy="6.7">samples = 11</tspan><tspan x="0" dy="6.7">value = [11, 0]</tspan><tspan x="0" dy="6.7">class = Magnus Norman</tspan></text></g>
<g id="l45" class="nd" transform="translate(859,753.1)"><rect x="-36.5" y="-14.5" width="73" height="29" rx="4" class="o"/><text y="-7.9"><tspan x="0">gini = 0.0</tspan><tspan x="0" dy="6.7">samples = 1</tspan><tspan x="0" dy="6.7">value = [1, 0]</tspan><tspan x="0" dy="6.7">class = Magnus Norman</tspan></text></g>
<g id="l46" class="nd" transform="translate(941,753.1)"><rect x="-36.5" y="-14.5" width="73" height="29" rx="4" class="b"/><text y="-7.9"><tspan x="0">gini = 0.0</tspan><tspan x="0" dy="6.7">samples = 1</tspan><tspan x="0" dy="6.7">value = [0, 1]</tspan><tspan x="0" dy="6.7">class = Magnus Norman</tspan></text></g>
<g id="l47" class="nd" transform="translate(1022,753.1)"><rect x="-36.5" y="-14.5" width="73" height="29" rx="4" class="o"/><text y="-7.9"><tspan x="0">gini = 0.0</tspan><tspan x="0" dy="6.7">samples = 11</tspan><tspan x="0" dy="6.7">value = [11, 0]</tspan><tspan x="0" dy="6.7">class = Magnus Norman</tspan></text></g>
<g id="l48" class="nd" transform="translate(1559,753.1)"><rect x="-36.5" y="-14.5" width="73" height="29" rx="4" class="b"/><text y="-7.9"><tspan x="0">gini = 0.0</tspan><tspan x="0" dy="6.7">samples = 2</tspan><tspan x="0" dy="6.7">value = [0, 2]</tspan><tspan x="0" dy="6.7">class = Magnus Norman</tspan></text></g>
<g id="l49" class="nd" transform="translate(1640,753.1)"><rect x="-36.5" y="-14.5" width="73" height="29" rx="4" class="o"/><text y="-7.9"><tspan x="0">gini = 0.0</tspan><tspan x="0" dy="6.7">samples = 4</tspan><tspan x="0" dy="6.7">value = [4, 0]</tspan><tspan x="0" dy="6.7">class = Magnus Norman</tspan></text></g>
<g id="l50" class="nd" transform="translate(1144,805.2)"><rect x="-36.5" y="-14.5" width="73" height="29" rx="4" fill="#eda877"/><text y="-7.9"><tspan x="0">gini = 0.363</tspan><tspan x="0" dy="6.7">samples = 21</tspan><tspan x="0" dy="6.7">value = [16, 5]</tspan><tspan x="0" dy="6.7">class = Magnus Norman</tspan></text></g>
<g id="l51" class="nd" transform="translate(1022,857.3)"><rect x="-36.5" y="-14.5" width="73" height="29" rx="4" class="o"/><text y="-7.9"><tspan x="0">gini = 0.0</tspan><tspan x="0" dy="6.7">samples = 4</tspan><tspan x="0" dy="6.7">value = [4, 0]</tspan><tspan x="0" dy="6.7">class = Magnus Norman</tspan></text></g>
<g id="l52" class="nd" transform="translate(1063,909.4)"><rect x="-36.5" y="-14.5" width="73" height="29" rx="4" fill="#ea9a61"/><text y="-7.9"><tspan x="0">gini = 0.278</tspan><tspan x="0" dy="6.7">samples = 6</tspan><tspan x="0" dy="6.7">value = [5, 1]</tspan><tspan x="0" dy="6.7">class = Magnus Norman</tspan></text></g>
<g id="l53" class="nd" transform="translate(1144,909.4)"><rect x="-36.5" y="-14.5" width="73" height="29" rx="4" class="o"/><text y="-7.9"><tspan x="0">gini = 0.0</tspan><tspan x="0" dy="6.7">samples = 2</tspan><tspan x="0" dy="6.7">value = [2, 0]</tspan><tspan x="0" dy="6.7">class = Magnus Norman</tspan></text></g>
</g>
</svg>
